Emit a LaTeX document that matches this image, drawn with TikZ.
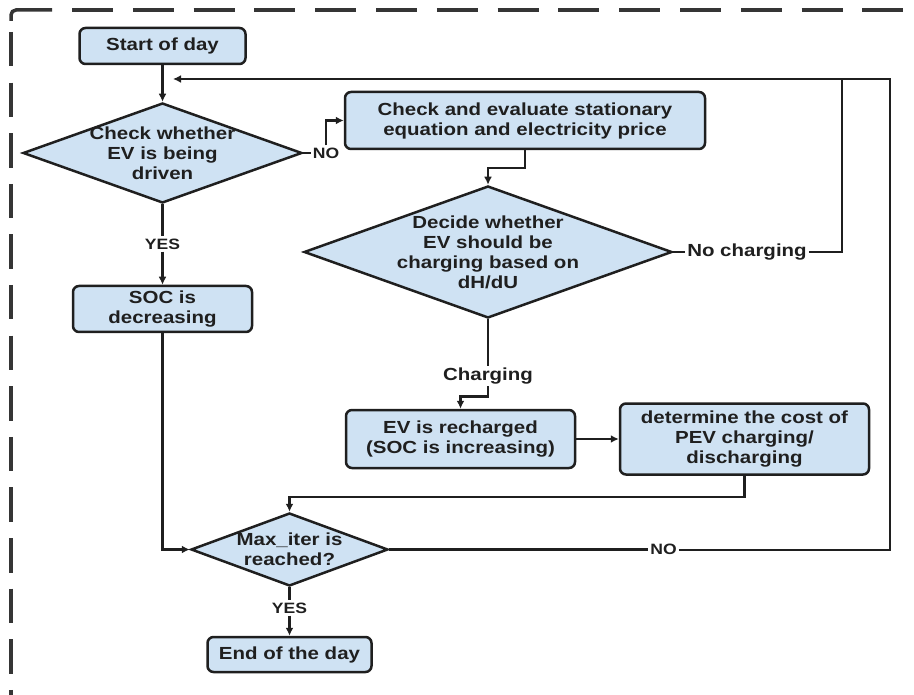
\documentclass[tikz,border=0pt]{standalone}
\usepackage{fontspec}
\setmainfont[FakeStretch=1.17]{Liberation Sans}
\usetikzlibrary{shapes.geometric,arrows.meta}
\definecolor{boxblue}{HTML}{CFE2F3}
\definecolor{ink}{HTML}{1F1F1F}
\tikzset{
    box/.style = {draw = ink, fill = boxblue, line width = 2.5pt, rounded corners = 6pt, align = center, inner sep = 2pt},
    decision/.style = {draw = ink, fill = boxblue, line width = 2.5pt, diamond, inner sep = 0pt},
    lbl/.style = {inner sep = 1pt},
    yn/.style = {inner sep = 1pt, font = \bfseries\fontsize{15}{18}\selectfont},
    arr/.style = {-{Latex[length = 8pt, width = 8pt]}},
    border/.style = {draw = ink!90, line width = 3.5pt},
}
\begin{document}
\begin{tikzpicture}[x = 1pt, y = -1pt, line width = 2.5pt, color = ink, font = \bfseries\fontsize{17.5}{20}\selectfont]
        \useasboundingbox (0, 0) rectangle (914, 695);
        \draw[border, rounded corners = 5pt] (11, 21) -- (11, 10) -- (52, 10);
        \draw[border, dash pattern = on 41pt off 19.8pt] (72, 10) -- (914, 10);
        \draw[border, dash pattern = on 34.5pt off 16.1pt] (11, 32) -- (11, 695);
        \node[box, minimum width = 166, minimum height = 36] (start) at (162.5, 46) {Start of day};
        \node[decision, minimum width = 279, minimum height = 100, label = {[align = center]center:Check whether\\EV is being\\driven}] (drive) at (162.5, 153) {};
        \node[box, minimum width = 360, minimum height = 57] (eval) at (525, 120.5) {Check and evaluate stationary\\equation and electricity price};
        \node[decision, minimum width = 368, minimum height = 132, label = {[align = center]center:Decide whether\\EV should be\\charging based on\\dH/dU}] (decide) at (488, 252) {};
        \node[box, minimum width = 179, minimum height = 46] (soc) at (162.5, 309) {SOC is\\decreasing};
        \node[box, minimum width = 229, minimum height = 58] (recharge) at (460.5, 439) {EV is recharged\\(SOC is increasing)};
        \node[box, minimum width = 249, minimum height = 71] (cost) at (744.5, 439) {determine the cost of\\PEV charging/\\discharging};
        \node[decision, minimum width = 197, minimum height = 73, label = {[align = center]center:Max\_iter is\\reached?}] (maxiter) at (289.5, 549.5) {};
        \node[box, minimum width = 164, minimum height = 35] (end) at (289.5, 654.5) {End of the day};
        \node[yn] (no1) at (326, 153) {NO};
        \node[yn] (yes1) at (162.5, 244) {YES};
        \node[lbl] (nochg) at (747, 252) {No charging};
        \node[lbl] (chg) at (488, 376) {Charging};
        \node[yn] (no2) at (663.5, 549.5) {NO};
        \node[yn] (yes2) at (289.5, 608) {YES};
        \coordinate (back) at (173, 79);
        \coordinate (rtop) at (890, 79);
        \coordinate (ntop) at (842, 79);
        \draw[arr] (start.south) -- (drive.north);
        \draw (drive.east) -- (no1.west);
        \draw[arr] (no1.north) |- (eval.west);
        \draw[arr] (eval.south) -- ++(0, 18) -| (decide.north);
        \draw (decide.east) -- (nochg.west);
        \draw (nochg.east) -| (ntop);
        \draw (decide.south) -- (chg.north);
        \draw[arr] (chg.south) -- ++(0, 10) -| (recharge.north);
        \draw[arr] (recharge.east) -- (cost.west);
        \draw[arr] (cost.south) -- ++(0, 21) -| (maxiter.north);
        \draw (drive.south) -- (yes1.north);
        \draw[arr] (yes1.south) -- (soc.north);
        \draw[arr] (soc.south) |- (maxiter.west);
        \draw (maxiter.east) -- (no2.west);
        \draw[arr, line width = 2pt] (no2.east) -| (rtop) -- (back);
        \draw (maxiter.south) -- (yes2.north);
        \draw[arr] (yes2.south) -- (end.north);
    \end{tikzpicture}
\end{document}
